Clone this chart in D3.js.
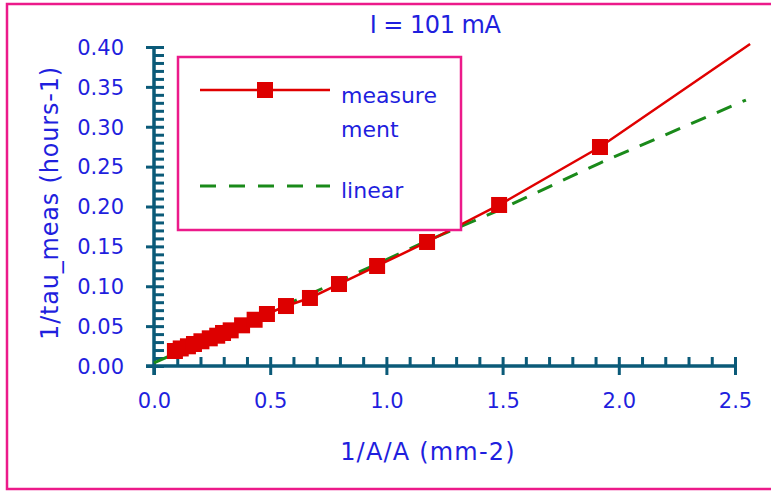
<!DOCTYPE html>
<html>
<head>
<meta charset="utf-8">
<script src="https://cdn.jsdelivr.net/npm/d3@7"></script>
<style>
  html, body { margin: 0; padding: 0; background: #fff; }
  svg { display: block; }
  text { font-family: "DejaVu Sans", sans-serif; fill: #1f1fde; }
</style>
</head>
<body>
<svg id="chart" width="771" height="491"></svg>
<script>
// Measured relaxation rate vs inverse area
const measureX = [0.09, 0.115, 0.146, 0.172, 0.204, 0.24, 0.272, 0.297, 0.33, 0.379, 0.433, 0.486, 0.568, 0.671, 0.796, 0.96, 1.175, 1.485, 1.919];
const measureY = [0.0188, 0.022, 0.0247, 0.0276, 0.031, 0.0347, 0.038, 0.0414, 0.0447, 0.051, 0.058, 0.0652, 0.0752, 0.0853, 0.1028, 0.1254, 0.1555, 0.2019, 0.2746];
// extension of the measurement curve past the last point
const measureTailX = [2.565];
const measureTailY = [0.4038];
// linear reference curve
const linearX = [0, 0.486, 0.96, 1.175, 1.485, 1.919, 2.547];
const linearY = [0.004, 0.066, 0.128, 0.157, 0.1956, 0.2545, 0.3335];

const xMajor = [0, 0.5, 1.0, 1.5, 2.0, 2.5];
const xLabels = ["0.0", "0.5", "1.0", "1.5", "2.0", "2.5"];
const yMajor = [0, 0.05, 0.1, 0.15, 0.2, 0.25, 0.3, 0.35, 0.4];
const yLabels = ["0.00", "0.05", "0.10", "0.15", "0.20", "0.25", "0.30", "0.35", "0.40"];
const xMinor = d3.range(1, 25).map(i => i / 10).filter(v => Math.abs(v * 2 - Math.round(v * 2)) > 1e-6);
const yMinor = d3.range(1, 40).map(i => i / 100).filter(v => Math.abs(v * 20 - Math.round(v * 20)) > 1e-6);

const titleText = "I = 101 mA";
const xTitle = "1/A/A (mm-2)";
const yTitle = "1/tau_meas (hours-1)";
const legendNames = [["measure", "ment"], ["linear"]];

const pink = "#ec1a8a";
const axisColor = "#0b5a78";
const red = "#e00000";
const green = "#1a8a1a";

const svg = d3.select("#chart");

// outer frame
svg.append("rect").attr("x", 7).attr("y", 4).attr("width", 780).attr("height", 485)
  .attr("fill", "none").attr("stroke", pink).attr("stroke-width", 2.5);

const x = d3.scaleLinear().domain([0, 2.5]).range([154, 735]);
const y = d3.scaleLinear().domain([0, 0.4]).range([366, 47]);

// x axis: minor ticks pointing up, major ticks crossing the line
const xMinorAxis = d3.axisBottom(x).tickValues(xMinor).tickSize(-9).tickFormat("");
const xMajorAxis = d3.axisBottom(x).tickValues(xMajor).tickSize(18)
  .tickFormat((d, i) => xLabels[i]).tickPadding(18);

const gxMinor = svg.append("g").attr("transform", `translate(0,${y(0)})`).call(xMinorAxis);
const gx = svg.append("g").attr("transform", `translate(0,${y(0)})`).call(xMajorAxis);
gx.selectAll(".tick line").attr("y1", -9).attr("y2", 9);
gx.selectAll(".tick text").attr("y", 35).attr("dy", "0.35em")
  .style("font-size", "21px").attr("fill", "#1f1fde");

// y axis: minor ticks pointing right, major ticks crossing the line
const yMinorAxis = d3.axisLeft(y).tickValues(yMinor).tickSize(-10).tickFormat("");
const yMajorAxis = d3.axisLeft(y).tickValues(yMajor).tickSize(18)
  .tickFormat((d, i) => yLabels[i]);
const gyMinor = svg.append("g").attr("transform", `translate(${x(0)},0)`).call(yMinorAxis);
const gy = svg.append("g").attr("transform", `translate(${x(0)},0)`).call(yMajorAxis);
gy.selectAll(".tick line").attr("x1", -8).attr("x2", 10);
gy.selectAll(".tick text").attr("x", -30).attr("dy", "0.35em")
  .style("font-size", "21px").attr("fill", "#1f1fde");

[gxMinor, gx, gyMinor, gy].forEach(g => {
  g.selectAll(".domain").attr("stroke", axisColor).attr("stroke-width", 3);
  g.selectAll(".tick line").attr("stroke", axisColor).attr("stroke-width", 3);
});
gxMinor.select(".domain").attr("d", `M${x(0) - 8},0H${x(2.5)}`);
gx.select(".domain").attr("d", `M${x(0) - 8},0H${x(2.5)}`);
gyMinor.select(".domain").attr("d", `M0,${y(0) + 9}V${y(0.4)}`);
gy.select(".domain").attr("d", `M0,${y(0) + 9}V${y(0.4)}`);

// linear reference (dashed)
const line = d3.line().x(d => x(d[0])).y(d => y(d[1]));
const linPts = linearX.map((v, i) => [v, linearY[i]]);
svg.append("path").attr("d", line(linPts)).attr("fill", "none")
  .attr("stroke", green).attr("stroke-width", 3).attr("stroke-dasharray", "16,12");

// measurement curve
const measPts = measureX.map((v, i) => [v, measureY[i]]);
const measLine = measPts.concat(measureTailX.map((v, i) => [v, measureTailY[i]]));
svg.append("path").attr("d", line(measLine)).attr("fill", "none")
  .attr("stroke", red).attr("stroke-width", 2.5);

const ms = 16;
svg.append("g").selectAll("rect").data(measPts).join("rect")
  .attr("x", d => x(d[0]) - ms / 2).attr("y", d => y(d[1]) - ms / 2)
  .attr("width", ms).attr("height", ms).attr("fill", "#dd0000");

// title
svg.append("text").attr("x", 435).attr("y", 33).attr("text-anchor", "middle")
  .style("font-size", "24px").style("letter-spacing", "-0.5px").text(titleText);

// axis titles
svg.append("text").attr("x", 428).attr("y", 460).attr("text-anchor", "middle")
  .style("font-size", "24px").style("letter-spacing", "1.2px").text(xTitle);
svg.append("text").attr("transform", "translate(58,203) rotate(-90)")
  .attr("text-anchor", "middle").style("font-size", "24px").style("letter-spacing", "0.8px")
  .text(yTitle);

// legend
const lg = svg.append("g");
lg.append("rect").attr("x", 178).attr("y", 57).attr("width", 283).attr("height", 173)
  .attr("fill", "#fff").attr("stroke", pink).attr("stroke-width", 2.5);
lg.append("line").attr("x1", 200).attr("x2", 330).attr("y1", 90).attr("y2", 90)
  .attr("stroke", red).attr("stroke-width", 2.5);
lg.append("rect").attr("x", 265 - ms / 2).attr("y", 90 - ms / 2).attr("width", ms).attr("height", ms)
  .attr("fill", "#dd0000");
lg.append("line").attr("x1", 200).attr("x2", 330).attr("y1", 186).attr("y2", 186)
  .attr("stroke", green).attr("stroke-width", 3).attr("stroke-dasharray", "16,13");
legendNames[0].forEach((t, i) => {
  lg.append("text").attr("x", 341).attr("y", 103 + i * 34).style("font-size", "22px").text(t);
});
lg.append("text").attr("x", 341).attr("y", 198).style("font-size", "22px").text(legendNames[1][0]);
</script>
</body>
</html>
